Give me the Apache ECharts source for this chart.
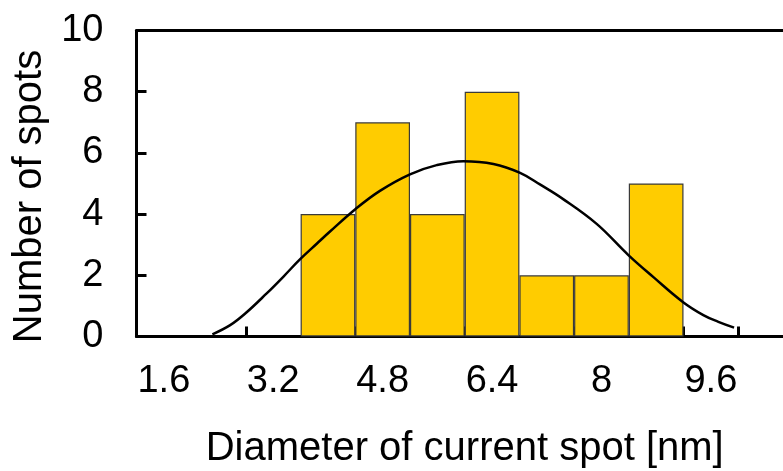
<!DOCTYPE html>
<html>
<head>
<meta charset="utf-8">
<script src="https://cdn.jsdelivr.net/npm/echarts@6/dist/echarts.min.js"></script>
<style>
  html, body { margin: 0; padding: 0; background: #ffffff; }
  #chart { width: 783px; height: 471px; }
</style>
</head>
<body>
<div id="chart"></div>
<script>
// Histogram bins (bin centres, nm) and the counts per bin
const binCenters = ['1.6', '2.4', '3.2', '4.0', '4.8', '5.6', '6.4', '7.2', '8.0', '8.8', '9.6', '10.4'];
const binLabels  = ['1.6', '', '3.2', '', '4.8', '', '6.4', '', '8', '', '9.6', ''];
const spotCounts = [null, null, null, 4, 7, 4, 8, 2, 2, 5, null, null];

// Fitted distribution curve: diameter (nm) and expected count
const fitDiameter = [2.31, 2.57, 2.79, 3.10, 3.35, 3.59, 3.84, 4.03, 4.40, 4.76, 5.20, 5.59, 5.98, 6.42, 6.81, 7.10, 7.44, 7.93, 8.39, 8.76, 9.19, 9.49, 9.71, 9.94];
const fitCount    = [0.07, 0.37, 0.75, 1.40, 1.96, 2.52, 3.04, 3.43, 4.16, 4.76, 5.30, 5.60, 5.73, 5.64, 5.35, 4.97, 4.49, 3.68, 2.67, 1.94, 1.13, 0.70, 0.48, 0.29];

const FONT = 'Liberation Sans, Arial, sans-serif';
const chart = echarts.init(document.getElementById('chart'), null, { renderer: 'canvas' });

chart.setOption({
  animation: false,
  backgroundColor: '#ffffff',
  grid: { left: 136.5, top: 30.5, width: 656.4, bottom: 134.5, containLabel: false, outerBoundsMode: 'none' },
  xAxis: [
    {
      type: 'category',
      data: binCenters,
      position: 'bottom',
      boundaryGap: true,
      axisLine: { show: true, lineStyle: { color: '#000', width: 3 } },
      axisTick: { show: true, inside: true, length: 10, interval: 1, alignWithLabel: false,
                  lineStyle: { color: '#000', width: 3 } },
      axisLabel: {
        interval: 0, margin: 26,
        formatter: (v, i) => binLabels[i],
        fontFamily: FONT, fontSize: 38, lineHeight: 38, color: '#000'
      },
      splitLine: { show: false },
      name: 'Diameter of current spot [nm]',
      nameLocation: 'middle',
      nameGap: 92,
      nameTextStyle: { fontFamily: FONT, fontSize: 40, lineHeight: 40, color: '#000' }
    },
    {
      // hidden value axis for the fitted curve; its line forms the top frame
      type: 'value',
      position: 'top',
      min: 1.2, max: 10.8,
      axisLine: { show: true, onZero: false, lineStyle: { color: '#000', width: 3 } },
      axisTick: { show: false },
      axisLabel: { show: false },
      splitLine: { show: false }
    }
  ],
  yAxis: {
    type: 'value',
    min: 0, max: 10, interval: 2,
    axisLine: { show: true, lineStyle: { color: '#000', width: 3 } },
    axisTick: { show: true, inside: true, length: 10, lineStyle: { color: '#000', width: 3 } },
    axisLabel: { margin: 33, fontFamily: FONT, fontSize: 38, lineHeight: 38, color: '#000' },
    splitLine: { show: false },
    name: 'Number of spots',
    nameLocation: 'middle',
    nameGap: 70,
    nameTextStyle: { fontFamily: FONT, fontSize: 40, lineHeight: 40, color: '#000', padding: [0, 26, 0, 0] }
  },
  series: [
    {
      type: 'bar',
      data: spotCounts,
      barCategoryGap: 0,
      itemStyle: { color: '#FFCC00', borderColor: '#3a3a3a', borderWidth: 1.2 },
      z: 2
    },
    {
      type: 'line',
      xAxisIndex: 1,
      data: fitDiameter.map((d, i) => [d, fitCount[i]]),
      smooth: 0.4,
      showSymbol: false,
      symbol: 'none',
      lineStyle: { color: '#000', width: 2.5 },
      z: 3
    }
  ]
});
</script>
</body>
</html>
